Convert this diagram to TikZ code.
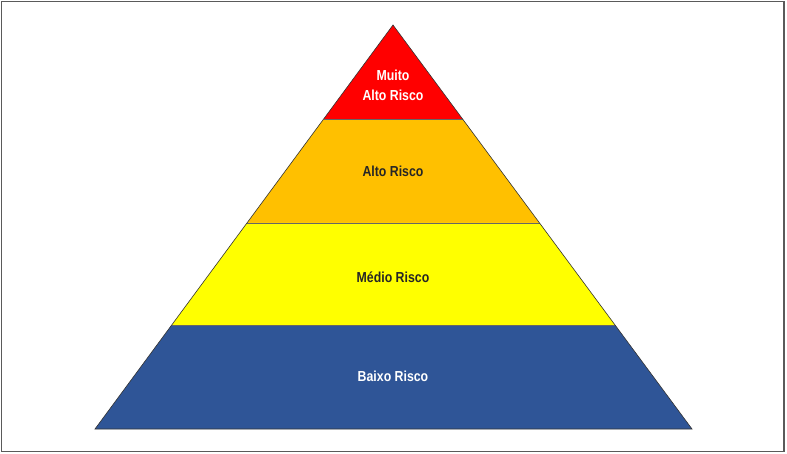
\documentclass[tikz,border=0pt]{standalone}
\usepackage{fontspec}
\setmainfont{Liberation Sans}
\newfontfamily\narrowfont[FakeStretch=0.85]{Liberation Sans}
\usepackage{tikz}
\usetikzlibrary{positioning, calc}
\definecolor{riskred}{RGB}{255,0,0}
\definecolor{riskorange}{RGB}{255,192,0}
\definecolor{riskyellow}{RGB}{255,255,0}
\definecolor{riskblue}{RGB}{47,85,151}
\definecolor{framegray}{RGB}{90,90,90}

\begin{document}
\begin{tikzpicture}[
    x=1pt, y=-1pt,
    band/.style={
        draw=black!80, line width=0.6pt,
        line join=miter
    },
    risklabel/.style={
        font=\narrowfont\fontsize{14.5}{17}\selectfont\bfseries,
        align=center, inner sep=0pt
    }
]
\useasboundingbox (0,0) rectangle (787,454);
\draw[framegray, line width=1.5pt] (1.5,1.5) rectangle (784,451.5);

% pyramid corners
\coordinate (apex) at (393,25);
\coordinate (bl) at (95,429);
\coordinate (br) at (692,429);
% band edges
\coordinate (l1) at ($(apex)!0.2327!(bl)$);
\coordinate (r1) at ($(apex)!0.2327!(br)$);
\coordinate (l2) at ($(apex)!0.4901!(bl)$);
\coordinate (r2) at ($(apex)!0.4901!(br)$);
\coordinate (l3) at ($(apex)!0.7426!(bl)$);
\coordinate (r3) at ($(apex)!0.7426!(br)$);

\fill[riskred] (apex) -- (r1) -- (l1) -- cycle;
\fill[riskorange] (l1) -- (r1) -- (r2) -- (l2) -- cycle;
\fill[riskyellow] (l2) -- (r2) -- (r3) -- (l3) -- cycle;
\fill[riskblue] (l3) -- (r3) -- (br) -- (bl) -- cycle;
\foreach \a/\b in {l1/r1,l2/r2,l3/r3}{
    \draw[band, black!60] (\a) -- (\b);
}
\draw[band] (apex) -- (br) -- (bl) -- cycle;

\node[risklabel, text=white] (top) at (393,85)
    {Muito\\[3pt]Alto Risco};
\node[risklabel, text=black!85] (high) at (393,171) {Alto Risco};
\node[risklabel, text=black!85] (mid) at (393,277) {Médio Risco};
\node[risklabel, text=white] (low) at (393,376) {Baixo Risco};
\end{tikzpicture}
\end{document}
